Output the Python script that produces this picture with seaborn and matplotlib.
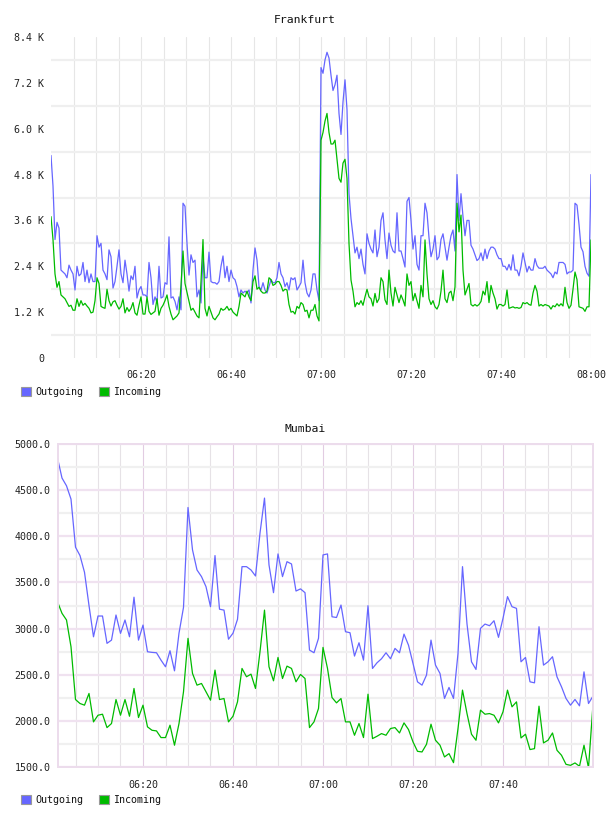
import numpy as np
import pandas as pd
import matplotlib
matplotlib.use("Agg")
import matplotlib.pyplot as plt
import matplotlib.dates as mdates
from matplotlib.patches import Patch
import seaborn as sns

# Frankfurt, values in K, one sample every ~27 s from 06:00 to 08:00
fra_out = [
    5.3, 4.5, 3.1, 3.55, 3.4, 2.3, 2.25, 2.2, 2.1, 2.43,
    2.3, 2.2, 1.78, 2.4, 2.15, 2.2, 2.5, 2.0, 2.3, 1.97,
    2.2, 2.0, 2.0, 3.2, 2.9, 3.0, 2.3, 2.2, 2.05, 2.83,
    2.65, 1.83, 2.0, 2.4, 2.83, 2.2, 1.97, 2.56, 2.2, 1.75,
    2.15, 2.05, 2.4, 1.57, 1.78, 1.87, 1.65, 1.65, 1.6, 2.5,
    2.1, 1.4, 1.6, 1.45, 2.4, 1.57, 1.6, 1.97, 1.93, 3.17,
    1.57, 1.6, 1.48, 1.26, 1.6, 1.26, 4.05, 3.97, 3.0, 2.17,
    2.7, 2.5, 2.56, 1.6, 1.78, 1.44, 2.64, 2.1, 2.1, 2.77,
    2.0, 1.97, 1.97, 1.93, 2.0, 2.4, 2.67, 2.1, 2.4, 2.0,
    2.3, 2.1, 2.05, 1.87, 1.6, 1.78, 1.7, 1.75, 1.7, 1.78,
    1.44, 2.3, 2.88, 2.56, 1.87, 1.78, 1.97, 1.78, 1.7, 1.87,
    2.05, 1.97, 1.97, 2.1, 2.5, 2.2, 2.1, 1.87, 1.97, 1.78,
    2.1, 2.05, 2.1, 1.78, 1.87, 1.97, 2.56, 1.97, 1.7, 1.6,
    1.78, 2.2, 2.2, 1.78, 1.5, 7.6, 7.45, 7.8, 8.0, 7.85,
    7.4, 7.0, 7.15, 7.4, 6.4, 5.85, 6.7, 7.28, 6.5, 4.3,
    3.65, 3.2, 2.75, 2.9, 2.6, 2.85, 2.45, 2.2, 3.25, 3.0,
    2.85, 2.75, 3.35, 2.65, 2.9, 3.6, 3.8, 3.09, 2.6, 3.27,
    2.95, 2.8, 2.75, 3.8, 2.8, 2.8, 2.6, 2.38, 4.1, 4.2,
    3.6, 2.85, 3.2, 2.45, 2.3, 3.2, 3.2, 4.05, 3.8, 3.15,
    2.65, 2.85, 3.2, 2.57, 2.65, 3.1, 3.25, 2.9, 2.56, 2.9,
    3.2, 3.35, 2.8, 4.8, 3.6, 4.3, 3.7, 3.2, 3.6, 3.6,
    2.95, 2.85, 2.7, 2.55, 2.6, 2.75, 2.55, 2.85, 2.6, 2.8,
    2.9, 2.9, 2.85, 2.7, 2.6, 2.6, 2.4, 2.4, 2.3, 2.45,
    2.3, 2.7, 2.3, 2.3, 2.15, 2.4, 2.75, 2.5, 2.25, 2.4,
    2.3, 2.3, 2.6, 2.42, 2.35, 2.35, 2.35, 2.4, 2.3, 2.25,
    2.2, 2.1, 2.25, 2.2, 2.5, 2.5, 2.5, 2.45, 2.2, 2.25,
    2.25, 2.3, 4.05, 4.0, 3.5, 2.9, 2.78, 2.4, 2.22, 2.14,
    4.8,
]
fra_in = [
    3.7, 3.1, 2.2, 1.85, 2.0, 1.65, 1.6, 1.55, 1.45, 1.35,
    1.38, 1.25, 1.25, 1.55, 1.35, 1.5, 1.38, 1.43, 1.36, 1.3,
    1.18, 1.2, 1.5, 2.1, 1.95, 1.35, 1.32, 1.3, 1.8, 1.5,
    1.36, 1.47, 1.5, 1.38, 1.28, 1.35, 1.55, 1.18, 1.32, 1.22,
    1.3, 1.45, 1.18, 1.12, 1.38, 1.6, 1.15, 1.15, 1.6, 1.22,
    1.14, 1.18, 1.22, 1.55, 1.12, 1.3, 1.38, 1.5, 1.65, 1.35,
    1.15, 1.0, 1.05, 1.1, 1.18, 1.9, 2.8, 1.95, 1.72, 1.5,
    1.25, 1.3, 1.2, 1.1, 1.05, 2.0, 3.1, 1.3, 1.1, 1.35,
    1.2, 1.05, 1.0, 1.08, 1.15, 1.3, 1.25, 1.28, 1.35, 1.25,
    1.3, 1.2, 1.15, 1.1, 1.35, 1.7, 1.65, 1.6, 1.75, 1.6,
    1.5, 2.0, 2.15, 1.8, 1.85, 1.75, 1.7, 1.7, 1.75, 2.1,
    2.05, 1.9, 1.93, 2.0, 2.0, 1.9, 1.75, 1.8, 1.78, 1.4,
    1.2, 1.22, 1.15, 1.35, 1.3, 1.45, 1.4, 1.22, 1.25, 1.05,
    1.25, 1.25, 1.4, 1.1, 0.97, 5.7, 5.9, 6.2, 6.4, 5.9,
    5.6, 5.6, 5.7, 5.2, 4.7, 4.6, 5.1, 5.2, 4.7, 3.0,
    2.04, 1.75, 1.34, 1.45, 1.4, 1.5, 1.38, 1.6, 1.8, 1.6,
    1.55, 1.36, 1.69, 1.45, 1.55, 2.1, 2.0, 1.52, 1.4, 2.3,
    1.7, 1.36, 1.85, 1.65, 1.45, 1.65, 1.52, 1.36, 2.2, 1.9,
    2.0, 1.5, 1.69, 1.5, 1.3, 1.9, 1.6, 3.09, 2.2, 1.55,
    1.4, 1.5, 1.34, 1.28, 1.4, 1.75, 2.3, 1.55, 1.45, 1.7,
    1.75, 1.5, 1.86, 4.05, 3.3, 3.74, 2.3, 1.65, 1.8, 1.95,
    1.4, 1.36, 1.4, 1.36, 1.4, 1.48, 1.75, 1.65, 2.0, 1.45,
    1.9, 1.7, 1.55, 1.28, 1.4, 1.4, 1.36, 1.4, 1.78, 1.3,
    1.32, 1.34, 1.31, 1.32, 1.3, 1.32, 1.45, 1.42, 1.45, 1.4,
    1.38, 1.7, 1.9, 1.75, 1.36, 1.4, 1.36, 1.4, 1.38, 1.36,
    1.28, 1.37, 1.34, 1.42, 1.36, 1.42, 1.36, 1.85, 1.45, 1.3,
    1.38, 1.8, 2.25, 2.05, 1.34, 1.32, 1.3, 1.22, 1.34, 1.34,
    3.09,
]

# Mumbai, one sample per minute from 06:01 to 08:00
mum_out = [
    4848, 4631, 4547, 4403, 3882, 3791, 3610, 3250, 2911, 3136,
    3136, 2840, 2875, 3147, 2948, 3093, 2911, 3340, 2875, 3038,
    2749, 2742, 2738, 2658, 2586, 2760, 2542, 2950, 3230, 4312,
    3853, 3635, 3563, 3454, 3237, 3791, 3210, 3200, 2885, 2950,
    3100, 3671, 3671, 3635, 3570, 4034, 4414, 3690, 3389, 3809,
    3563, 3725, 3700, 3407, 3430, 3389, 2767, 2738, 2894, 3798,
    3809, 3128, 3120, 3255, 2966, 2955, 2702, 2846, 2658, 3248,
    2568, 2629, 2673, 2738, 2673, 2785, 2738, 2940, 2820, 2622,
    2423, 2387, 2496, 2875, 2604, 2514, 2243, 2362, 2243, 2731,
    3671, 3050, 2640, 2557, 3002, 3049, 3031, 3085, 2905, 3111,
    3346, 3237, 3219, 2640, 2687, 2423, 2412, 3020, 2604, 2640,
    2695, 2477, 2369, 2243, 2170, 2232, 2163, 2531, 2188, 2268,
]
mum_in = [
    3290, 3165, 3093, 2803, 2231, 2188, 2170, 2297, 1989, 2061,
    2072, 1927, 1971, 2231, 2061, 2231, 2050, 2351, 2036, 2170,
    1935, 1898, 1891, 1819, 1819, 1953, 1736, 1971, 2315, 2894,
    2514, 2387, 2405, 2315, 2224, 2550, 2231, 2242, 1989, 2050,
    2206, 2568, 2478, 2506, 2351, 2749, 3200, 2586, 2434, 2687,
    2459, 2593, 2568, 2423, 2503, 2459, 1927, 1989, 2134, 2796,
    2568, 2253, 2195, 2242, 1989, 1989, 1844, 1971, 1819, 2289,
    1808, 1833, 1862, 1844, 1917, 1927, 1869, 1978, 1906, 1772,
    1670, 1663, 1746, 1964, 1790, 1736, 1609, 1645, 1547, 1917,
    2333, 2079, 1855, 1790, 2116, 2072, 2079, 2061, 1978, 2098,
    2333, 2152, 2206, 1815, 1855, 1689, 1699, 2159, 1761, 1790,
    1869, 1681, 1627, 1529, 1518, 1544, 1508, 1736, 1490, 2177,
]

series_names = ["Outgoing", "Incoming"]
colors = {"Outgoing": "#6666ff", "Incoming": "#00bb00"}

day = "2013-01-01 "
fra_time = pd.date_range(day + "06:00", day + "08:00", periods=len(fra_out))
mum_time = pd.date_range(day + "06:01", periods=len(mum_out), freq="min")

fra = pd.concat([
    pd.DataFrame({"time": fra_time, "value": fra_out, "series": "Outgoing"}),
    pd.DataFrame({"time": fra_time, "value": fra_in, "series": "Incoming"}),
])
mum = pd.concat([
    pd.DataFrame({"time": mum_time, "value": mum_out, "series": "Outgoing"}),
    pd.DataFrame({"time": mum_time, "value": mum_in, "series": "Incoming"}),
])

sns.set_theme(style="white")
plt.rcParams["font.family"] = ["DejaVu Sans Mono"]
plt.rcParams["axes.unicode_minus"] = False

W, H = 608, 816
fig = plt.figure(figsize=(W / 100, H / 100), dpi=100)

def ts(s):
    return pd.Timestamp(day + s)

# ---------- Frankfurt ----------
ax1 = fig.add_axes([51 / W, 1 - 358 / H, 540 / W, 321 / H])
sns.lineplot(data=fra, x="time", y="value", hue="series", palette=colors,
             hue_order=series_names, ax=ax1, legend=False, linewidth=0.9)
ax1.set_xlim(ts("06:00"), ts("08:00"))
ax1.set_ylim(0, 8.4)
for s in ax1.spines.values():
    s.set_visible(False)
yt = [0, 1.2, 2.4, 3.6, 4.8, 6.0, 7.2, 8.4]
ax1.set_yticks(yt)
ax1.set_yticklabels(["0"] + [f"{v:.1f} K" for v in yt[1:]])
ax1.set_yticks([0.6, 1.8, 3.0, 4.2, 5.4, 6.6, 7.8], minor=True)
ax1.set_xticks([ts(t) for t in ["06:20", "06:40", "07:00", "07:20", "07:40", "08:00"]])
ax1.set_xticks(pd.date_range(ts("06:05"), ts("08:00"), freq="5min"), minor=True)
ax1.xaxis.set_major_formatter(mdates.DateFormatter("%H:%M"))
ax1.xaxis.grid(True, which="both", color="#e6e6e6", linewidth=0.8)
ax1.yaxis.grid(True, which="minor", color="#efefef", linewidth=1.6)
ax1.yaxis.grid(False, which="major")
ax1.set_axisbelow(True)
ax1.tick_params(which="both", length=0, labelsize=7.2, colors="#222222")
ax1.tick_params(axis="y", pad=5)
ax1.tick_params(axis="x", pad=9)
ax1.set_xlabel("")
ax1.set_ylabel("")
fig.text(305 / W, 1 - 20 / H, "Frankfurt", ha="center", va="center",
         fontsize=8.2, color="#111111")

# ---------- Mumbai ----------
ax2 = fig.add_axes([57.5 / W, 1 - 767 / H, 535.5 / W, 323 / H])
sns.lineplot(data=mum, x="time", y="value", hue="series", palette=colors,
             hue_order=series_names, ax=ax2, legend=False, linewidth=0.9)
ax2.set_xlim(ts("06:01"), ts("08:00"))
ax2.set_ylim(1500, 5000)
for s in ax2.spines.values():
    s.set_color("#ecdcec")
    s.set_linewidth(1.4)
ax2.set_yticks(np.arange(1500, 5001, 500))
ax2.set_yticklabels([f"{v:.1f}" for v in np.arange(1500, 5001, 500)])
ax2.set_yticks(np.arange(1750, 5000, 500), minor=True)
ax2.set_xticks([ts(t) for t in ["06:20", "06:40", "07:00", "07:20", "07:40"]])
ax2.set_xticks(pd.date_range(ts("06:05"), ts("07:55"), freq="5min"), minor=True)
ax2.xaxis.set_major_formatter(mdates.DateFormatter("%H:%M"))
ax2.xaxis.grid(True, which="major", color="#e2cce2", linewidth=0.8)
ax2.xaxis.grid(True, which="minor", color="#e6e2e6", linewidth=0.8)
ax2.yaxis.grid(True, which="major", color="#f0e2f0", linewidth=1.6)
ax2.yaxis.grid(True, which="minor", color="#f0f0f0", linewidth=1.6)
ax2.set_axisbelow(True)
ax2.tick_params(which="both", length=0, labelsize=7.2, colors="#222222")
ax2.tick_params(axis="y", pad=5)
ax2.tick_params(axis="x", pad=9)
ax2.set_xlabel("")
ax2.set_ylabel("")
fig.text(305 / W, 1 - 429 / H, "Mumbai", ha="center", va="center",
         fontsize=8.2, color="#111111")

# ---------- legends ----------
handles = [Patch(facecolor=colors[n], edgecolor="#999999", linewidth=0.8) for n in series_names]
for ypx in (392, 800):
    fig.legend(handles, series_names, loc="center left",
               bbox_to_anchor=(21 / W, 1 - ypx / H), ncol=2, frameon=False,
               fontsize=7.2, handlelength=1.0, handleheight=1.0,
               handletextpad=0.45, columnspacing=1.5, borderpad=0,
               borderaxespad=0, labelcolor="#111111")

fig.savefig("out.png", dpi=100, facecolor="white")
